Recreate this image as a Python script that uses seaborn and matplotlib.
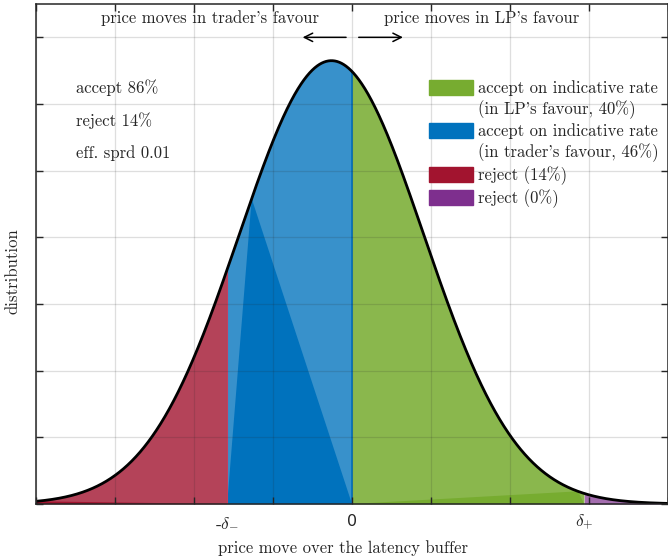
import numpy as np
import matplotlib
matplotlib.use("Agg")
import matplotlib.pyplot as plt
from matplotlib.patches import Patch
import seaborn as sns

# Price-move distribution over the latency buffer (normal density)
mu = -0.26
sigma = 1.17
peak = 6.65
delta_minus = 1.58   # reject threshold on the trader's side
delta_plus = 2.94    # reject threshold on the LP's side

region_names = ["accept on indicative rate", "(in LP's favour, 40%)",
                "accept on indicative rate", "(in trader's favour, 46%)",
                "reject (14%)", "reject (0%)"]
summary_lines = ["accept 86%", "reject 14%", "eff. sprd 0.01"]
side_labels = ["price moves in trader's favour", "price moves in LP's favour"]

RED = "#A2142F"
BLUE = "#0072BD"
GREEN = "#77AC30"
PURPLE = "#7E2F8E"

sns.set_theme(style="ticks")
plt.rcParams["font.family"] = "serif"
plt.rcParams["font.serif"] = ["cmr10"]
plt.rcParams["mathtext.fontset"] = "cm"
plt.rcParams["axes.unicode_minus"] = False
plt.rcParams["axes.formatter.use_mathtext"] = True

FS = 12

def density(x):
    return peak * np.exp(-0.5 * ((x - mu) / sigma) ** 2)

xs = np.linspace(-4, 4, 2001)
ys = density(xs)

fig = plt.figure(figsize=(6.68, 5.6), dpi=100)
ax = fig.add_axes([36 / 668, 56 / 560, 1 - 36 / 668, 500 / 560])
ax.set_xlim(-4, 4)
ax.set_ylim(0, 7.5)

# region fills
m_red = xs <= -delta_minus
m_blue = (xs >= -delta_minus) & (xs <= 0)
m_green = (xs >= 0) & (xs <= delta_plus)
m_purple = xs >= delta_plus
ax.fill_between(xs[m_red], 0, ys[m_red], color=RED, alpha=0.8, lw=0)
ax.fill_between(xs[m_blue], 0, ys[m_blue], color=BLUE, alpha=0.78, lw=0)
ax.fill_between(xs[m_green], 0, ys[m_green], color=GREEN, alpha=0.86, lw=0)
ax.fill_between(xs[m_purple], 0, ys[m_purple], color=PURPLE, alpha=0.7, lw=0)

# solid fan triangles inside each patch
xa = -1.27
ax.fill([-delta_minus, xa, 0], [0, density(xa), 0], color=BLUE, lw=0)
xg = delta_plus - 0.08
ax.fill([0, xg, delta_plus], [0, density(xg), 0], color=GREEN, lw=0)
ax.fill([-4, -4, -delta_minus], [0, density(-4), 0], color=RED, lw=0)
ax.plot([0, 0], [0, density(0)], color=BLUE, lw=1.2)
ax.plot([-delta_minus, -delta_minus], [0, density(-delta_minus)], color="#c04060", lw=0.8)

# density curve
sns.lineplot(x=xs, y=ys, color="black", lw=2.0, ax=ax)

# axes styling
ax.set_xticks(np.arange(-4, 5, 1))
ax.set_yticks(np.arange(0, 8, 1))
ax.set_xticklabels(["" if t != 0 else "0" for t in range(-4, 5)],
                   family="DejaVu Sans", fontsize=11.5)
ax.set_yticklabels([])
ax.tick_params(direction="in", length=5, width=1.0, color="#262626",
               top=True, right=True, pad=7)
ax.grid(True, color="#262626", alpha=0.15, lw=0.9)
ax.set_axisbelow(False)
for s in ax.spines.values():
    s.set_color("#262626")
    s.set_linewidth(1.1)

ax.text(-delta_minus, -0.27, r"-$\delta_{-}$", ha="center", va="center", fontsize=12.5)
ax.text(delta_plus, -0.27, r"$\delta_{+}$", ha="center", va="center", fontsize=12.5)

ax.set_xlabel("price move over the latency buffer", fontsize=FS)
ax.xaxis.set_label_coords(0.485, -0.072)
ax.set_ylabel("distribution", fontsize=FS)
ax.yaxis.set_label_coords(-0.024, 0.465)

# direction annotations
ax.text(-1.8, 7.29, side_labels[0], ha="center", va="center", fontsize=FS)
ax.text(0.41, 7.29, side_labels[1], ha="left", va="center", fontsize=FS)
ax.annotate("", xy=(-0.66, 7.0), xytext=(-0.04, 7.0),
            arrowprops=dict(arrowstyle="->,head_length=0.5,head_width=0.25", lw=1.1, color="black"))
ax.annotate("", xy=(0.68, 7.0), xytext=(0.05, 7.0),
            arrowprops=dict(arrowstyle="->,head_length=0.5,head_width=0.25", lw=1.1, color="black"))

for i, line in enumerate(summary_lines):
    ax.text(-3.49, 6.25 - 0.495 * i, line, ha="left", va="center", fontsize=FS)

# legend
blank = Patch(facecolor="none", edgecolor="none")
handles = [Patch(color=GREEN), blank, Patch(color=BLUE), blank,
           Patch(color=RED), Patch(color=PURPLE)]
leg = ax.legend(handles, region_names, loc="upper left",
                bbox_to_anchor=(0.975, 6.36), bbox_transform=ax.transData,
                frameon=False, fontsize=FS, borderpad=0, borderaxespad=0,
                handlelength=2.65, handleheight=1.0, handletextpad=0.3,
                labelspacing=0.25)

fig.savefig("out.png", dpi=100)
